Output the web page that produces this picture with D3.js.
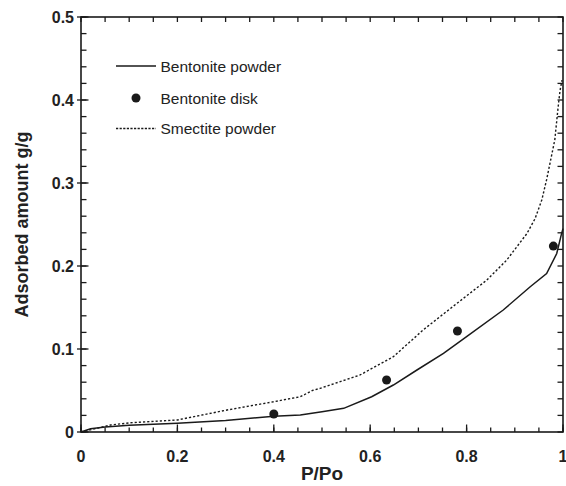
<!DOCTYPE html>
<html>
<head>
<meta charset="utf-8">
<script src="https://cdn.jsdelivr.net/npm/d3@7"></script>
<style>
  html, body { margin: 0; padding: 0; background: #fff; }
  svg { display: block; font-family: "Liberation Sans", Arial, sans-serif; }
</style>
</head>
<body>
<svg id="chart" width="566" height="486"></svg>
<script>
// Water vapour adsorption isotherms
const powderX = [0, 0.02, 0.05, 0.1, 0.2, 0.3, 0.4, 0.455, 0.5, 0.545, 0.603, 0.648, 0.697, 0.752, 0.8, 0.876, 0.932, 0.966, 0.987, 0.997, 1.0];
const powderY = [0, 0.004, 0.006, 0.008, 0.0105, 0.014, 0.019, 0.0205, 0.0245, 0.0285, 0.0425, 0.0566, 0.0747, 0.0948, 0.1148, 0.147, 0.175, 0.191, 0.215, 0.239, 0.245];

const smectiteX = [0, 0.03, 0.061, 0.1, 0.2, 0.303, 0.4, 0.455, 0.48, 0.496, 0.579, 0.648, 0.71, 0.78, 0.842, 0.883, 0.925, 0.942, 0.956, 0.966, 0.983, 0.99, 0.994, 0.998];
const smectiteY = [0, 0.004, 0.0084, 0.011, 0.0145, 0.0265, 0.0365, 0.0425, 0.05, 0.0526, 0.0687, 0.0907, 0.123, 0.155, 0.183, 0.207, 0.239, 0.257, 0.2795, 0.304, 0.352, 0.392, 0.412, 0.424];

const diskX = [0.4, 0.634, 0.781, 0.98];
const diskY = [0.0217, 0.0627, 0.1217, 0.224];

const xMajorTicks = [0, 0.2, 0.4, 0.6, 0.8, 1];
const yMajorTicks = [0, 0.1, 0.2, 0.3, 0.4, 0.5];
const legendLabels = ["Bentonite powder", "Bentonite disk", "Smectite powder"];

const svg = d3.select("#chart");
const plotL = 81, plotR = 563, plotT = 17, plotB = 432;

const x = d3.scaleLinear().domain([0, 1]).range([plotL, plotR]);
const y = d3.scaleLinear().domain([0, 0.5]).range([plotB, plotT]);

const xMinor = d3.range(0, 1.0001, 0.05);
const yMinor = d3.range(0, 0.5001, 0.02);
const fmt = d => (d === 0 || d === 1) ? String(d) : d.toFixed(1);
const ink = "#1a1a1a";

// axis frame
svg.append("rect")
  .attr("x", plotL).attr("y", plotT)
  .attr("width", plotR - plotL).attr("height", plotB - plotT)
  .style("fill", "none").style("stroke", ink).style("stroke-width", "1.6px");

// tick marks: every tick drawn inward from its edge
function ticks(values, pos, edge, len, horizontal) {
  svg.append("g").selectAll("line").data(values).join("line")
    .attr("x1", d => horizontal ? pos(d) : edge)
    .attr("x2", d => horizontal ? pos(d) : edge + len)
    .attr("y1", d => horizontal ? edge : pos(d))
    .attr("y2", d => horizontal ? edge + len : pos(d))
    .style("stroke", ink).style("stroke-width", "1.3px");
}
ticks(xMinor, x, plotB, -4.5, true);
ticks(xMinor, x, plotT, 5, true);
ticks(xMajorTicks, x, plotB, -7.5, true);
ticks(yMinor, y, plotL, 5.5, false);
ticks(yMinor, y, plotR, -5.5, false);
ticks(yMajorTicks, y, plotL - 4, 11.5, false);

// tick labels
svg.append("g").selectAll("text").data(xMajorTicks).join("text")
  .attr("x", d => x(d)).attr("y", 461.5)
  .attr("text-anchor", "middle")
  .attr("font-size", 16).attr("font-weight", "bold").attr("fill", "#222")
  .text(fmt);

svg.append("g").selectAll("text").data(yMajorTicks).join("text")
  .attr("x", 74).attr("y", d => y(d) + 6)
  .attr("text-anchor", "end")
  .attr("font-size", 16).attr("font-weight", "bold").attr("fill", "#222")
  .text(fmt);

// axis titles
svg.append("text")
  .attr("x", (plotL + plotR) / 2).attr("y", 479.5)
  .attr("text-anchor", "middle")
  .attr("font-size", 19).attr("font-weight", "bold").attr("fill", "#222")
  .text("P/Po");

svg.append("text")
  .attr("transform", `translate(27.5,${(plotT + plotB) / 2}) rotate(-90)`)
  .attr("text-anchor", "middle")
  .attr("font-size", 18).attr("font-weight", "bold").attr("fill", "#222")
  .text("Adsorbed amount g/g");

// curves
const line = d3.line().x(d => x(d[0])).y(d => y(d[1]));
const powder = d3.zip(powderX, powderY);
const smectite = d3.zip(smectiteX, smectiteY);

svg.append("path").datum(smectite)
  .attr("d", line).attr("fill", "none")
  .attr("stroke", ink).attr("stroke-width", 1.4)
  .attr("stroke-dasharray", "2.2,2");

svg.append("path").datum(powder)
  .attr("d", line).attr("fill", "none")
  .attr("stroke", ink).attr("stroke-width", 1.5);

svg.append("g").selectAll("circle").data(d3.zip(diskX, diskY)).join("circle")
  .attr("cx", d => x(d[0])).attr("cy", d => y(d[1]))
  .attr("r", 4.5).attr("fill", ink);

// legend
const lg = svg.append("g");
const rows = [66, 98, 128.5];
lg.append("line").attr("x1", 116).attr("x2", 156).attr("y1", rows[0]).attr("y2", rows[0])
  .attr("stroke", ink).attr("stroke-width", 1.5);
lg.append("circle").attr("cx", 136).attr("cy", rows[1]).attr("r", 4.5).attr("fill", ink);
lg.append("line").attr("x1", 116).attr("x2", 156).attr("y1", rows[2]).attr("y2", rows[2])
  .attr("stroke", ink).attr("stroke-width", 1.4).attr("stroke-dasharray", "2.2,1.4");
lg.selectAll("text").data(legendLabels).join("text")
  .attr("x", 160.5).attr("y", (d, i) => rows[i] + 5.5)
  .attr("font-size", 15.5).attr("fill", "#222")
  .text(d => d);
</script>
</body>
</html>
